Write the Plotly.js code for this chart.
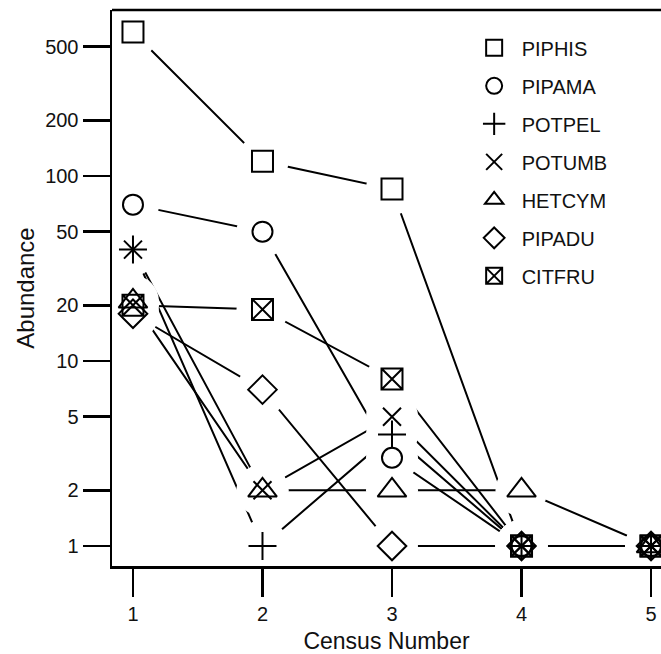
<!DOCTYPE html>
<html>
<head>
<meta charset="utf-8">
<script src="https://cdn.plot.ly/plotly-3.0.1.min.js"></script>
<style>html,body{margin:0;padding:0;background:#fff;}#chart{width:661px;height:654px;}</style>
</head>
<body>
<div id="chart"></div>
<script>
// Data
const census = [1, 2, 3, 4, 5];
const PIPHIS = [600, 120, 85, 1, 1];
const PIPAMA = [70, 50, 3, 1, 1];
const POTPEL = [40, 1, 4, 1, 1];
const POTUMB = [40, 2, 5, 1, 1];
const HETCYM = [21, 2, 2, 2, 1];
const PIPADU = [18, 7, 1, 1, 1];
const CITFRU = [20, 19, 8, 1, 1];
const speciesNames = ['PIPHIS', 'PIPAMA', 'POTPEL', 'POTUMB', 'HETCYM', 'PIPADU', 'CITFRU'];
const yTickVals = [1, 2, 5, 10, 20, 50, 100, 200, 500];
const yTickText = ['1', '2', '5', '10', '20', '50', '100', '200', '500'];

const seriesValues = [PIPHIS, PIPAMA, POTPEL, POTUMB, HETCYM, PIPADU, CITFRU];
const symbols = ['square-open', 'circle-open', 'cross-thin-open', 'x-thin-open', 'triangle-up-open', 'diamond-open', 'square-x-open'];
const sizes = [21, 20, 20, 18, 25, 22, 21];

const FONT = 'Liberation Sans, Arial, sans-serif';
const traces = [];
// connecting lines
seriesValues.forEach((vals, i) => {
  traces.push({x: census, y: vals, mode: 'lines', line: {color: '#000', width: 2},
    showlegend: false, hoverinfo: 'skip'});
});
// white halos giving the gapped "type b" look
seriesValues.forEach((vals, i) => {
  traces.push({x: census, y: vals, mode: 'markers', cliponaxis: true,
    marker: {symbol: 'circle', size: 52, color: '#fff', line: {width: 0}},
    showlegend: false, hoverinfo: 'skip'});
});
// symbols
seriesValues.forEach((vals, i) => {
  traces.push({x: census, y: vals, mode: 'markers', name: speciesNames[i],
    legendgroup: speciesNames[i], cliponaxis: false,
    marker: {symbol: symbols[i], size: sizes[i], color: '#000',
      line: {color: '#000', width: 2}}});
});

const layout = {
  width: 661, height: 654,
  margin: {l: 112, r: 0, t: 10, b: 88},
  paper_bgcolor: '#fff', plot_bgcolor: '#fff',
  font: {family: FONT, color: '#111', size: 20},
  showlegend: true,
  legend: {x: 0.646, y: 0.967, xanchor: 'left', yanchor: 'top',
    font: {family: FONT, size: 20, color: '#111'},
    itemwidth: 45,
    tracegroupgap: 9, bgcolor: 'rgba(0,0,0,0)', itemsizing: 'trace'},
  xaxis: {range: [0.838, 5.077], tickvals: census, ticktext: census.map(String),
    ticks: 'outside', ticklen: 28, tickwidth: 2.5, tickcolor: '#000',
    showline: true, linewidth: 2.5, linecolor: '#000', showgrid: false, zeroline: false,
    tickfont: {family: FONT, size: 20, color: '#111'},
    title: {text: 'Census Number', font: {family: FONT, size: 23, color: '#111'}, standoff: 14}},
  yaxis: {type: 'log', range: [-0.108, 2.897], tickvals: yTickVals, ticktext: yTickText,
    ticks: 'outside', ticklen: 27, tickwidth: 2.5, tickcolor: '#000',
    showline: true, linewidth: 2.5, linecolor: '#000', showgrid: false, zeroline: false,
    tickfont: {family: FONT, size: 20, color: '#111'},
    title: {text: 'Abundance', font: {family: FONT, size: 24, color: '#111'}, standoff: 4}},
  shapes: [{type: 'line', xref: 'paper', yref: 'paper', x0: 0, x1: 1, y0: 1, y1: 1,
    line: {color: '#000', width: 2.5}}]
};

Plotly.newPlot('chart', traces, layout, {staticPlot: true, displayModeBar: false});
</script>
</body>
</html>
